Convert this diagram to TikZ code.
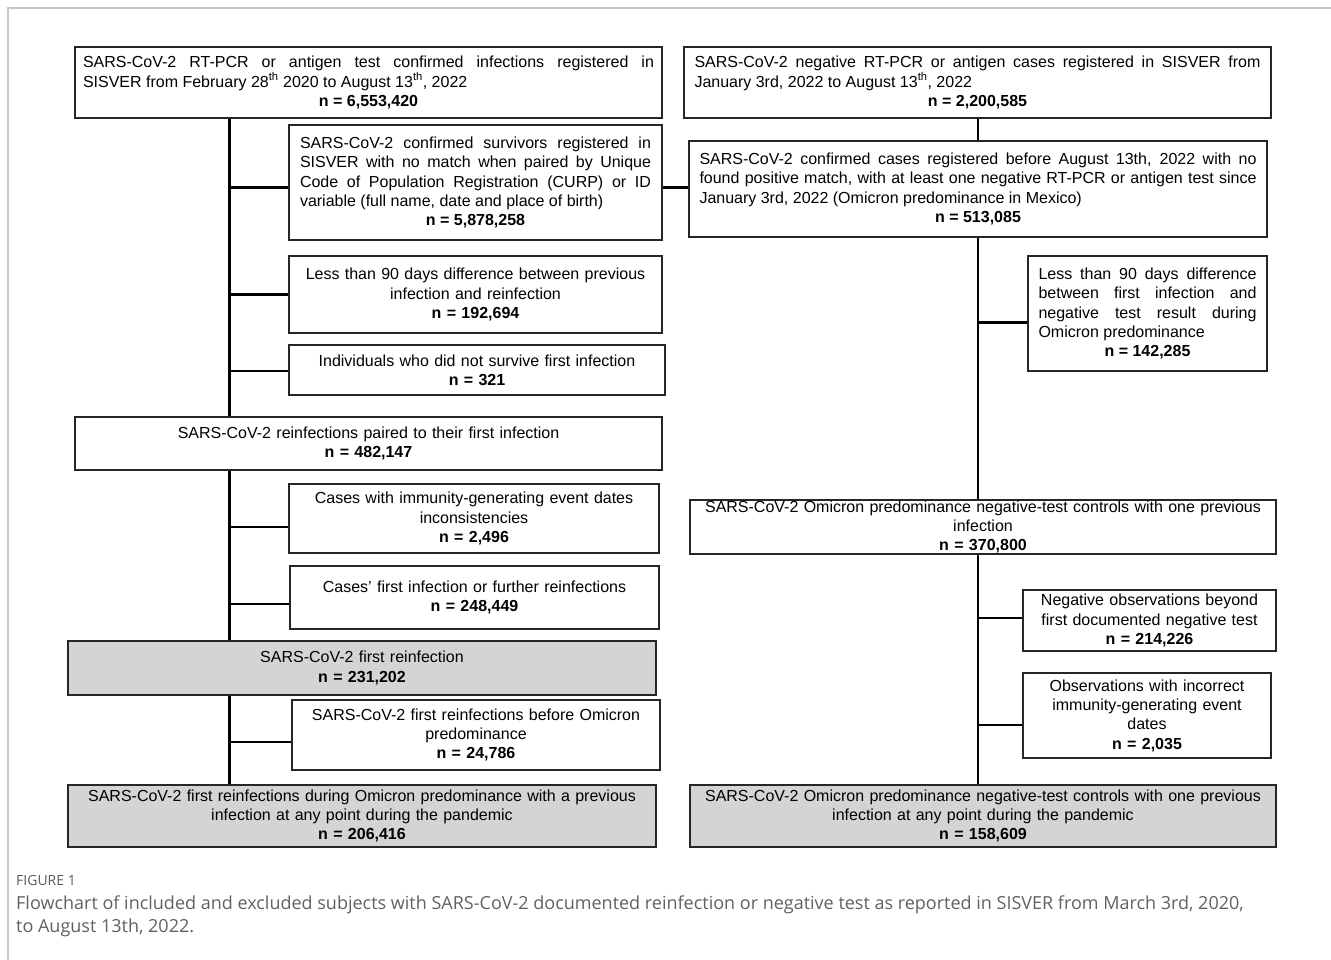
\documentclass[tikz,border=0pt]{standalone}
\usepackage{fontspec}
\setmainfont{Liberation Sans}
\newfontfamily\capfont{Open Sans}

\begin{document}
\begin{tikzpicture}[x=1pt,y=-1pt,
    caja/.style={draw=black!85,line width=1.2pt,fill=white,inner xsep=0pt,
        inner ysep=0pt,font=\fontsize{16}{19.3}\selectfont},
    just/.style={caja,align=justify},
    cent/.style={caja,align=center},
    gris/.style={fill=black!17},
    rama/.style={line width=2.4pt}]
    \useasboundingbox (0,0) rectangle (1331,960);
    % Marco de la figura.
    \draw[black!22,line width=1.3pt] (1331,8) -- (8,8) -- (8,960);

    % Columna izquierda: reinfecciones.
    \node[just,text width=571,minimum width=587,minimum height=71] (conf) at (368.5,82.5)
        {SARS-CoV-2 RT-PCR or antigen test confirmed infections registered in\linebreak
        SISVER from February 28\textsuperscript{th} 2020 to August 13\textsuperscript{th}, 2022\par
        {\centering\bfseries n = 6,553,420\par}};
    \node[just,text width=351,minimum width=373,minimum height=115] (sinpar) at (475.5,182.5)
        {SARS-CoV-2 confirmed survivors registered in\linebreak
        SISVER with no match when paired by Unique\linebreak
        Code of Population Registration (CURP) or ID\linebreak
        variable (full name, date and place of birth)\par
        {\centering\bfseries n = 5,878,258\par}};
    \node[cent,text width=363,minimum width=373,minimum height=77] (menos90) at (475.5,294.5)
        {Less than 90 days difference between previous\\infection and reinfection\\
        \textbf{n = 192,694}};
    \node[cent,text width=366,minimum width=376,minimum height=50] (nosobrev) at (477,370)
        {Individuals who did not survive first infection\\\textbf{n = 321}};
    \node[cent,text width=577,minimum width=587,minimum height=53] (pareadas) at (368.5,443.5)
        {SARS-CoV-2 reinfections paired to their first infection\\\textbf{n = 482,147}};
    \node[cent,text width=360,minimum width=370,minimum height=69] (inconsist) at (474,518.5)
        {Cases with immunity-generating event dates\\inconsistencies\\\textbf{n = 2,496}};
    \node[cent,text width=359,minimum width=369,minimum height=63] (otras) at (474.5,597.5)
        {Cases’ first infection or further reinfections\\\textbf{n = 248,449}};
    \node[cent,gris,text width=578,minimum width=588,minimum height=54] (primera) at (362,668)
        {SARS-CoV-2 first reinfection\\\textbf{n = 231,202}};
    \node[cent,text width=358,minimum width=368,minimum height=70] (antes) at (476,735)
        {SARS-CoV-2 first reinfections before Omicron\\predominance\\\textbf{n = 24,786}};
    \node[cent,gris,text width=578,minimum width=588,minimum height=62] (durante) at (362,816)
        {SARS-CoV-2 first reinfections during Omicron predominance with a previous\\
        infection at any point during the pandemic\\\textbf{n = 206,416}};

    % Columna derecha: controles negativos.
    \node[just,text width=566,minimum width=587,minimum height=71] (negat) at (977.5,82.5)
        {SARS-CoV-2 negative RT-PCR or antigen cases registered in SISVER from\linebreak
        January 3rd, 2022 to August 13\textsuperscript{th}, 2022\par
        {\centering\bfseries n = 2,200,585\par}};
    \node[just,text width=557,minimum width=578,minimum height=96] (sinpos) at (978,189)
        {SARS-CoV-2 confirmed cases registered before August 13th, 2022 with no\linebreak
        found positive match, with at least one negative RT-PCR or antigen test since\linebreak
        January 3rd, 2022 (Omicron predominance in Mexico)\par
        {\centering\bfseries n = 513,085\par}};
    \node[just,text width=218,minimum width=239,minimum height=115] (menos90r) at (1147.5,313.5)
        {Less than 90 days difference\linebreak between first infection and\linebreak
        negative test result during\linebreak Omicron predominance\par
        {\centering\bfseries n = 142,285\par}};
    \node[cent,text width=576,minimum width=586,minimum height=54] (controles) at (983,527)
        {SARS-CoV-2 Omicron predominance negative-test controls with one previous\\
        infection\\\textbf{n = 370,800}};
    \node[cent,text width=243,minimum width=253,minimum height=61] (mas) at (1149.5,620.5)
        {Negative observations beyond\\first documented negative test\\\textbf{n = 214,226}};
    \node[cent,text width=238,minimum width=248,minimum height=85] (incorr) at (1147,715.5)
        {Observations with incorrect\\immunity-generating event\\dates\\\textbf{n = 2,035}};
    \node[cent,gris,text width=576,minimum width=586,minimum height=62] (finalr) at (983,816)
        {SARS-CoV-2 Omicron predominance negative-test controls with one previous\\
        infection at any point during the pandemic\\\textbf{n = 158,609}};

    % Troncos y ramas.
    \coordinate (tizq) at (229.5,118);
    \coordinate (tder) at (978,118);
    \draw[rama] (conf.south -| tizq) -- (pareadas.north -| tizq);
    \draw[rama] (pareadas.south -| tizq) -- (primera.north -| tizq);
    \draw[rama] (primera.south -| tizq) -- (durante.north -| tizq);
    \draw[rama] (negat.south -| tder) -- (sinpos.north -| tder);
    \draw[rama] (sinpos.south -| tder) -- (controles.north -| tder);
    \draw[rama] (controles.south -| tder) -- (finalr.north -| tder);
    \foreach \caja/\dy in {sinpar/5,menos90/0,nosobrev/1,inconsist/8.5,otras/6.5,antes/7}
        \draw[rama] ([yshift=-\dy pt]\caja.west) -- ([yshift=-\dy pt]\caja.west -| tizq);
    \foreach \caja/\dy in {menos90r/9,mas/-2.5,incorr/9.5}
        \draw[rama] ([yshift=-\dy pt]\caja.west) -- ([yshift=-\dy pt]\caja.west -| tder);
    \draw[rama] ([yshift=-5pt]sinpar.east) -- ([yshift=-5pt]sinpar.east -| sinpos.west);

    % Pie de figura.
    \node[anchor=north west,inner sep=0pt,text=black!65,
        font=\capfont\fontsize{14}{16}\selectfont] (fig) at (16,875) {FIGURE 1};
    \node[anchor=north west,inner sep=0pt,text=black!62,align=left,
        font=\capfont\fontsize{18}{23}\selectfont] (pie) at (16,896)
        {Flowchart of included and excluded subjects with SARS-CoV-2 documented reinfection or negative test as reported in SISVER from March 3rd, 2020,\\
        to August 13th, 2022.};
\end{tikzpicture}
\end{document}
